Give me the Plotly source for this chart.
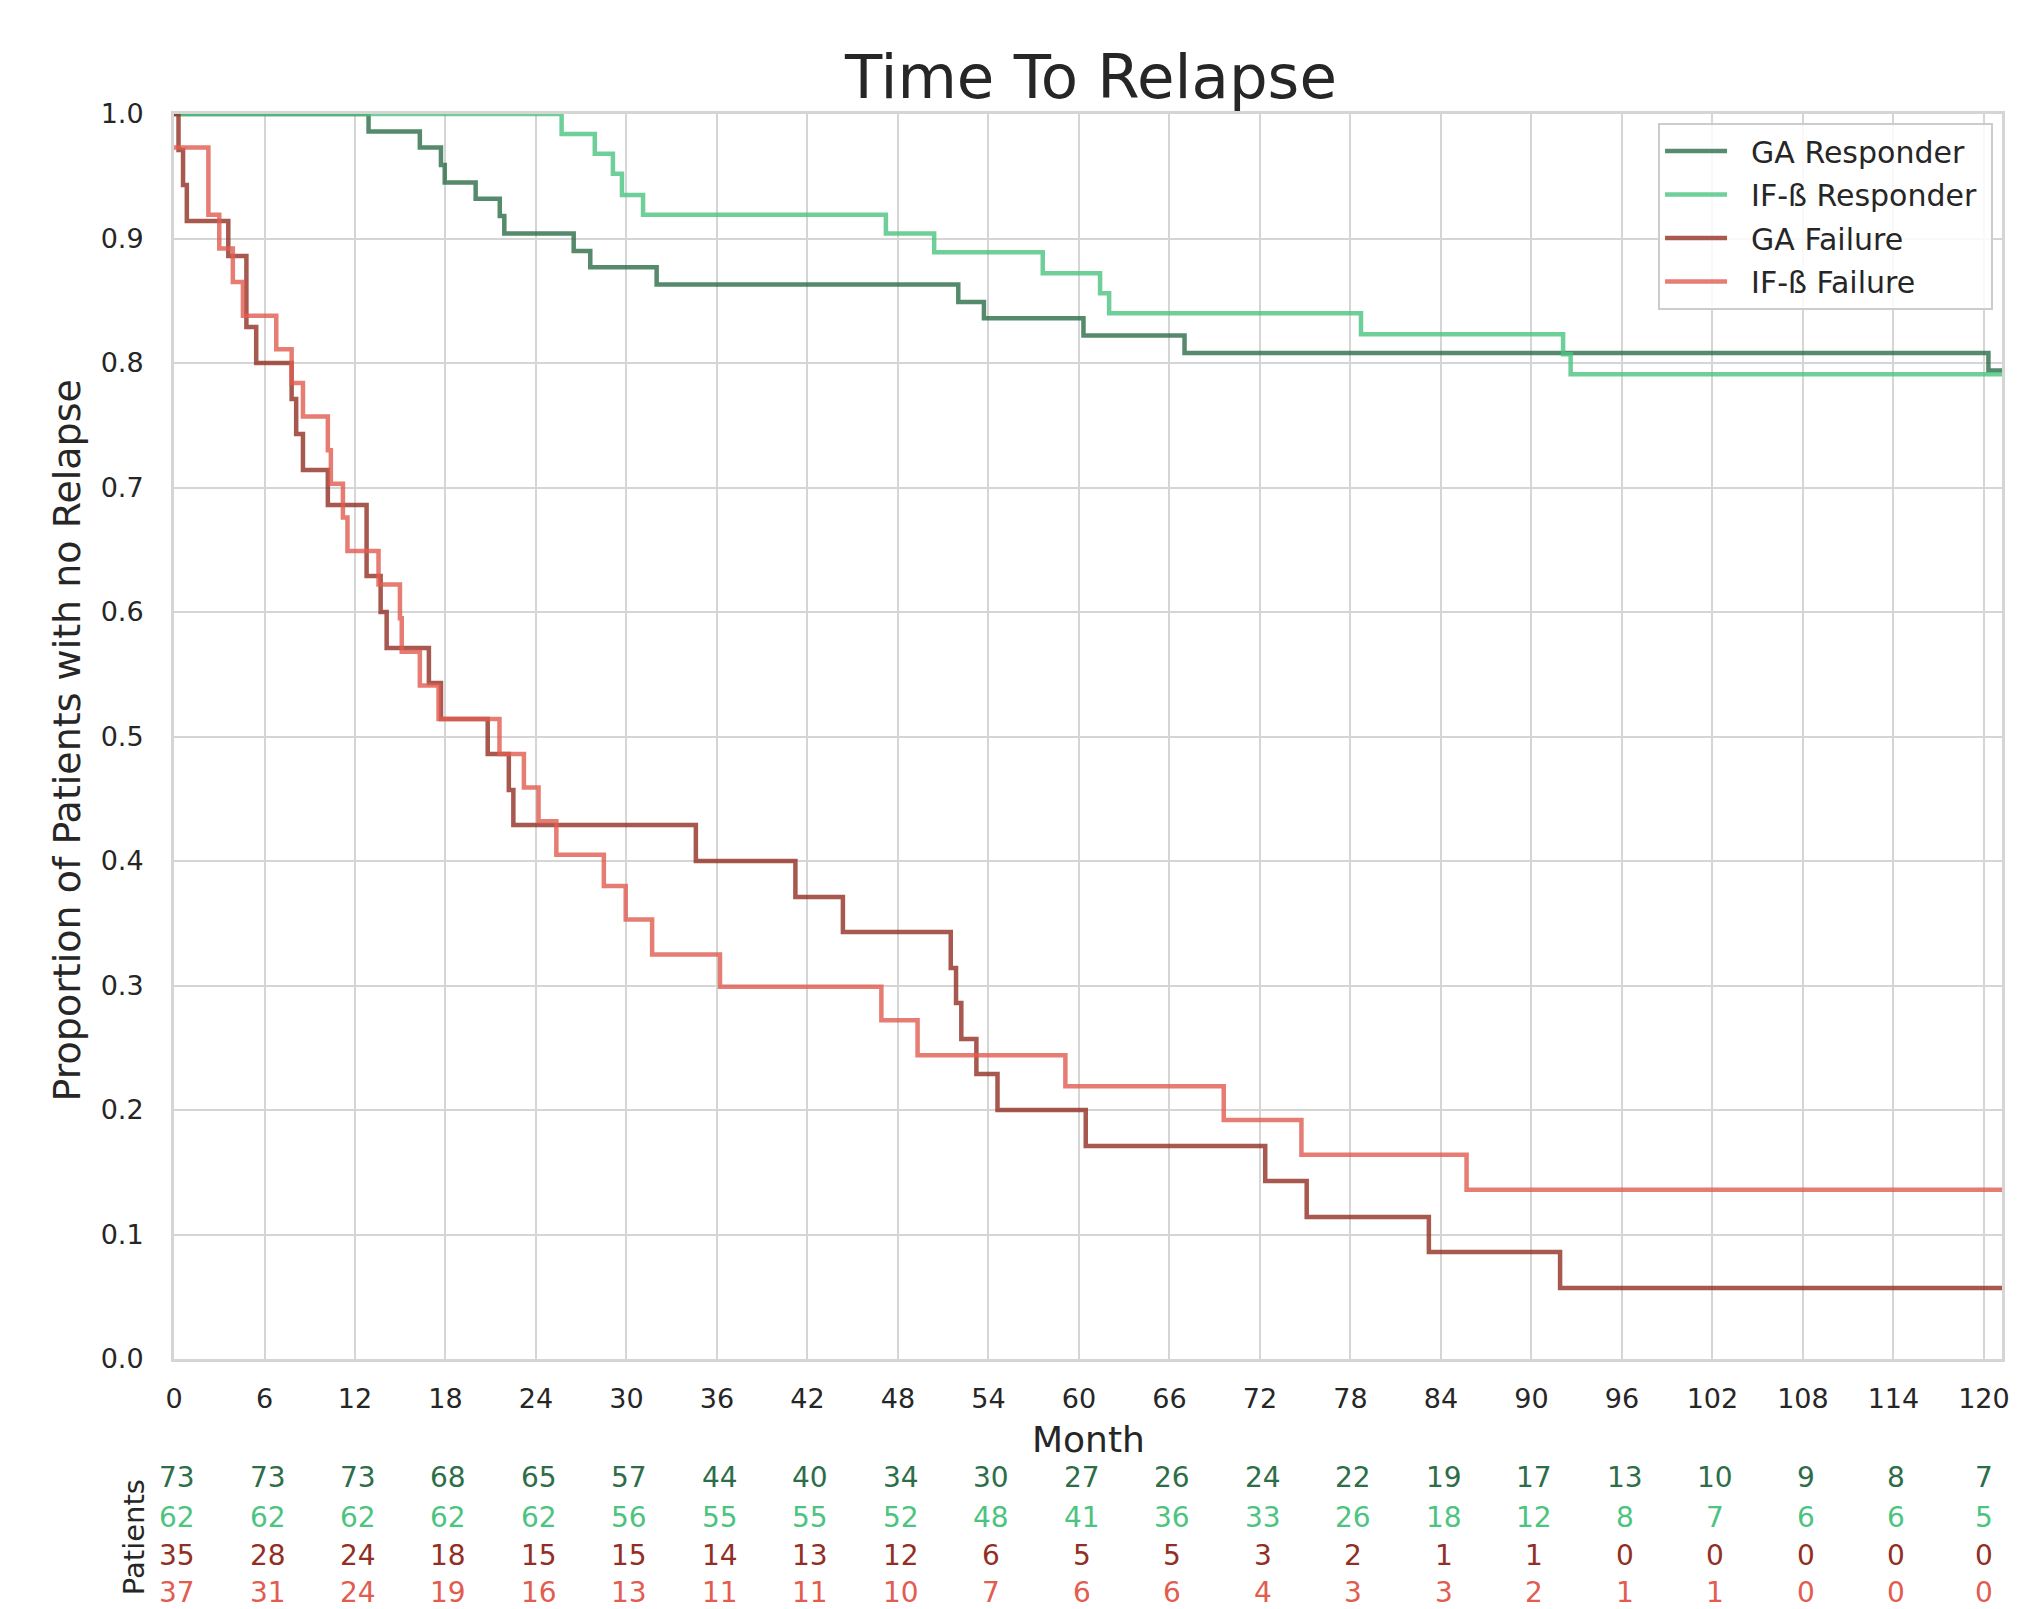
import plotly.graph_objects as go

# ---------------- data ----------------
month_ticks = list(range(0, 121, 6))
y_ticks = [0.0, 0.1, 0.2, 0.3, 0.4, 0.5, 0.6, 0.7, 0.8, 0.9, 1.0]

ga_resp_t = [0, 12.9, 16.3, 17.7, 17.95, 20.0, 21.6, 21.9, 26.5, 27.6, 32.0, 52.0, 53.7, 60.3, 67.0, 120.3, 121.2]
ga_resp_s = [1.0, 0.986, 0.973, 0.959, 0.945, 0.932, 0.918, 0.904, 0.890, 0.877, 0.863, 0.849, 0.836, 0.822, 0.808, 0.794, 0.794]

if_resp_t = [0, 25.7, 27.9, 29.1, 29.7, 31.1, 47.2, 50.4, 57.6, 61.4, 62.0, 78.7, 92.1, 92.6, 121.2]
if_resp_s = [1.0, 0.984, 0.968, 0.952, 0.935, 0.919, 0.904, 0.889, 0.872, 0.856, 0.840, 0.823, 0.807, 0.791, 0.791]

ga_fail_t = [0, 0.3, 0.6, 0.85, 3.6, 4.8, 5.45, 7.8, 8.1, 8.55, 10.2, 12.77, 13.7, 14.1, 16.9, 17.7,
             20.8, 22.2, 22.5, 34.6, 41.2, 44.35, 51.5, 51.85, 52.2, 53.2, 54.6, 60.45, 72.35, 75.1,
             83.2, 91.9, 121.2]
ga_fail_s = [1.0, 0.971, 0.943, 0.914, 0.886, 0.829, 0.800, 0.771, 0.743, 0.714, 0.686, 0.629, 0.600,
             0.571, 0.543, 0.514, 0.486, 0.457, 0.429, 0.400, 0.371, 0.343, 0.314, 0.286, 0.257, 0.229,
             0.200, 0.171, 0.143, 0.114, 0.086, 0.057, 0.057]

if_fail_t = [0, 2.28, 3.0, 3.9, 4.57, 6.78, 7.8, 8.55, 10.2, 10.4, 11.2, 11.5, 13.56, 14.98, 15.1, 16.3,
             17.54, 21.58, 23.2, 24.17, 25.35, 28.5, 29.95, 31.7, 36.2, 46.9, 49.3, 59.1, 69.6, 74.75,
             85.7, 121.2]
if_fail_s = [0.973, 0.919, 0.892, 0.865, 0.838, 0.811, 0.784, 0.757, 0.730, 0.703, 0.676, 0.649, 0.622,
             0.595, 0.568, 0.541, 0.514, 0.486, 0.459, 0.432, 0.405, 0.380, 0.353, 0.325, 0.299, 0.272,
             0.244, 0.219, 0.192, 0.164, 0.136, 0.136]

series_names = ["GA Responder", "IF-ß Responder", "GA Failure", "IF-ß Failure"]

at_risk_ga_resp = [73, 73, 73, 68, 65, 57, 44, 40, 34, 30, 27, 26, 24, 22, 19, 17, 13, 10, 9, 8, 7]
at_risk_if_resp = [62, 62, 62, 62, 62, 56, 55, 55, 52, 48, 41, 36, 33, 26, 18, 12, 8, 7, 6, 6, 5]
at_risk_ga_fail = [35, 28, 24, 18, 15, 15, 14, 13, 12, 6, 5, 5, 3, 2, 1, 1, 0, 0, 0, 0, 0]
at_risk_if_fail = [37, 31, 24, 19, 16, 13, 11, 11, 10, 7, 6, 6, 4, 3, 3, 2, 1, 1, 0, 0, 0]

# ---------------- styling ----------------
W, H = 2018, 1609
L, R, T, B = 174, 8, 114, 250
FONT = "DejaVu Sans"
TXT = "#262626"
GRID = "#d5d5d5"
colors = ["#2d6e48", "#4cc480", "#922f24", "#e25c50"]
NB = "\u00a0"

fig = go.Figure()
curves = [(ga_resp_t, ga_resp_s), (if_resp_t, if_resp_s), (ga_fail_t, ga_fail_s), (if_fail_t, if_fail_s)]
for i, ((t, s), name) in enumerate(zip(curves, series_names)):
    fig.add_trace(go.Scatter(
        x=t, y=s, mode="lines", name=NB * 2 + name + NB, legendgroup=name,
        line=dict(shape="hv", width=4.5, color=colors[i]), opacity=0.8,
        hoverinfo="skip",
    ))

plot_h = H - T - B


def ypix_to_paper(ypix):
    return (H - B - ypix) / plot_h


annotations = []
row_pix = [1477, 1517, 1555, 1592]
rows = [at_risk_ga_resp, at_risk_if_resp, at_risk_ga_fail, at_risk_if_fail]
for r, (vals, ypix) in enumerate(zip(rows, row_pix)):
    for m, v in zip(month_ticks, vals):
        annotations.append(dict(
            x=m, xref="x", y=ypix_to_paper(ypix), yref="paper",
            text=str(v), showarrow=False, xanchor="center", yanchor="middle",
            xshift=3 if m < 120 else 0,
            font=dict(family=FONT, size=28, color=colors[r]),
        ))

# "Patients" label
annotations.append(dict(
    x=(134 - L) / (W - L - R), xref="paper", y=ypix_to_paper(1537), yref="paper",
    text="Patients", textangle=-90, showarrow=False, xanchor="center", yanchor="middle",
    font=dict(family=FONT, size=29, color=TXT),
))
# y-axis title
annotations.append(dict(
    x=(67 - L) / (W - L - R), xref="paper", y=ypix_to_paper(740), yref="paper",
    text="Proportion of Patients with no Relapse", textangle=-90, showarrow=False,
    xanchor="center", yanchor="middle", font=dict(family=FONT, size=38, color=TXT),
))
# x-axis title
annotations.append(dict(
    x=0.5, xref="paper", y=ypix_to_paper(1439), yref="paper",
    text="Month", showarrow=False, xanchor="center", yanchor="middle",
    font=dict(family=FONT, size=36, color=TXT),
))

fig.update_layout(
    width=W, height=H, autosize=False,
    margin=dict(l=L, r=R, t=T, b=B, pad=0),
    paper_bgcolor="white", plot_bgcolor="white",
    font=dict(family=FONT, color=TXT),
    title=dict(text="Time To Relapse", x=(1091) / W, xanchor="center",
               y=1 - 77 / H, yanchor="middle", yref="container",
               font=dict(family=FONT, size=61, color=TXT)),
    showlegend=True,
    legend=dict(
        x=(2001 - L) / (W - L - R), xanchor="right", y=ypix_to_paper(123), yanchor="top",
        bgcolor="rgba(255,255,255,0.85)", bordercolor="#cccccc", borderwidth=2,
        font=dict(family=FONT, size=30, color=TXT), tracegroupgap=1.5, itemwidth=62,
    ),
    annotations=annotations,
)

fig.update_xaxes(
    range=[0, 121.2], tickmode="array", tickvals=month_ticks,
    ticktext=[str(m) for m in month_ticks],
    showgrid=True, gridcolor=GRID, gridwidth=2, zeroline=False,
    showline=True, linecolor=GRID, linewidth=3, mirror=True,
    ticks="outside", ticklen=14, tickcolor="rgba(0,0,0,0)",
    tickfont=dict(family=FONT, size=27, color=TXT),
)
fig.update_yaxes(
    range=[0, 1.0], tickmode="array", tickvals=y_ticks,
    ticktext=[f"{v:.1f}" for v in y_ticks],
    showgrid=True, gridcolor=GRID, gridwidth=2, zeroline=False,
    showline=True, linecolor=GRID, linewidth=3, mirror=True,
    ticks="outside", ticklen=22, tickcolor="rgba(0,0,0,0)",
    tickfont=dict(family=FONT, size=27, color=TXT),
)

fig.write_html(
    "out.html",
    config={"displayModeBar": False},
    post_script="document.body.style.margin='0';document.body.style.overflow='hidden';",
)
